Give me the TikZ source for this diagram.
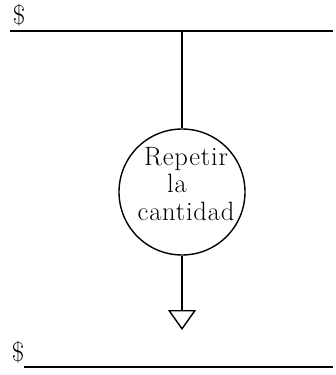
\documentclass[tikz,border=0pt]{standalone}
\usepackage{fontspec}
\setmainfont{Latin Modern Roman}
\newfontfamily\lettered[LetterSpace=3]{Latin Modern Roman}
\usetikzlibrary{arrows.meta}
\begin{document}
\begin{tikzpicture}[x=1pt,y=-1pt,
  rail/.style={line width=1.4pt},
  conn/.style={line width=1.6pt},
  proc/.style={circle,draw,line width=1.4pt,minimum size=126pt,inner sep=0pt},
  proctext/.style={align=center,inner sep=0pt,font=\lettered\fontsize{26.5}{27.5}\selectfont},
  dollar/.style={font=\fontsize{27}{28}\selectfont,inner sep=0pt}]
\useasboundingbox (0,0) rectangle (335,375);
\node[dollar] (d1) at (19,15) {\$};
\node[dollar] (d2) at (18,352) {\$};
\coordinate (t1) at (10,31);
\coordinate (t2) at (333,31);
\coordinate (j) at (182,31);
\coordinate (b1) at (24,367);
\coordinate (b2) at (333,367);
\draw[rail] (t1) -- (t2);
\draw[rail] (b1) -- (b2);
\node[proc] (c) at (182,192) {};
\node[proctext] (ct) at (186,184) {Repetir\\\hspace*{-18pt}la\\cantidad};
\coordinate (e) at (182,330);
\draw[conn] (j) -- (c.north);
\draw[conn,-{Triangle[open,length=20pt,width=28pt,line width=1.4pt]}] (c.south) -- (e);
\end{tikzpicture}
\end{document}
